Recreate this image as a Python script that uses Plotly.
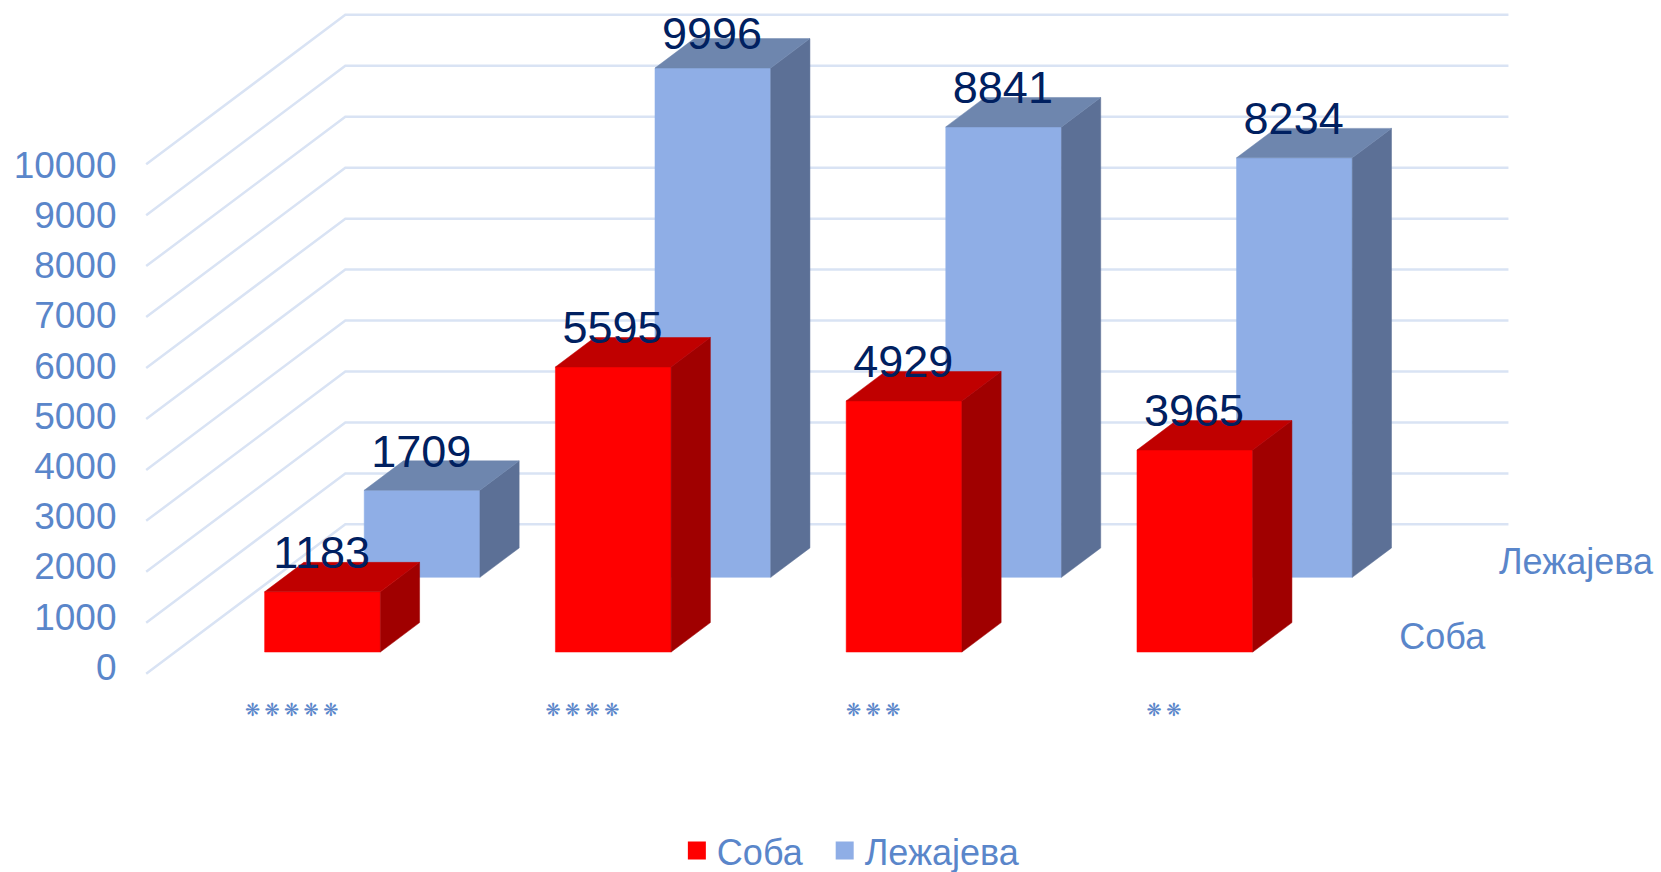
import plotly.graph_objects as go

STAR = "❋"
categories = ["\u2005".join(STAR * n) for n in (5, 4, 3, 2)]
soba = [1183, 5595, 4929, 3965]
lezajeva = [1709, 9996, 8841, 8234]
series_names = ["Соба", "Лежајева"]
value_ticks = [0, 1000, 2000, 3000, 4000, 5000, 6000, 7000, 8000, 9000, 10000]

W, H = 1661, 872
REF_W = 1568
REF_H = REF_W * H / W
PX_PER_CAT = 274.5
PX_PER_VAL = 0.0481
X0, Y0 = 138, 636
DX = 188 / PX_PER_CAT       # oblique shift of a full floor depth, in category units
DY = 141 / PX_PER_VAL       # same, in value units
BAR_W = 0.398
BAR_DEPTH = 0.197
BAR_SHIFT = 0.7 / PX_PER_CAT
BAR_DROP = 0.9 / PX_PER_VAL
LABEL_PX = 32
LABEL_TOP_PX = 36           # labels are kept inside the chart area

C_GRID = "#D9E3F4"
C_TEXT = "#5A86CA"
C_LABEL = "#002060"
FONT = "Liberation Sans, Arial, sans-serif"


def proj(c, d, v):
    return c + d * DX, v + d * DY


def poly(points):
    xs, ys = zip(*[proj(*p) for p in points])
    return list(xs) + [xs[0], None], [y - BAR_DROP for y in ys] + [ys[0] - BAR_DROP, None]


def face(polys, color):
    xs, ys = [], []
    for p in polys:
        a, b = poly(p)
        xs += a
        ys += b
    return go.Scatter(x=xs, y=ys, mode="lines", fill="toself", fillcolor=color,
                      line=dict(color=color, width=0.5), showlegend=False, hoverinfo="skip")


fig = go.Figure()

# wall / side gridlines
gx, gy = [], []
for v in value_ticks:
    for p in [(0, 0, v), (0, 1, v), (4, 1, v), None]:
        x, y = proj(*p) if p else (None, None)
        gx.append(x)
        gy.append(y)
fig.add_trace(go.Scatter(x=gx, y=gy, mode="lines", line=dict(color=C_GRID, width=2.5),
                         showlegend=False, hoverinfo="skip"))


def bars(values, depth_c, front, side, top):
    d0, d1 = depth_c - BAR_DEPTH / 2, depth_c + BAR_DEPTH / 2
    fr, si, to = [], [], []
    for i, v in enumerate(values):
        c0, c1 = i + 0.5 - BAR_W / 2 + BAR_SHIFT, i + 0.5 + BAR_W / 2 + BAR_SHIFT
        fr.append([(c0, d0, 0), (c1, d0, 0), (c1, d0, v), (c0, d0, v)])
        si.append([(c1, d0, 0), (c1, d1, 0), (c1, d1, v), (c1, d0, v)])
        to.append([(c0, d0, v), (c1, d0, v), (c1, d1, v), (c0, d1, v)])
    fig.add_trace(face(fr, front))
    fig.add_trace(face(si, side))
    fig.add_trace(face(to, top))


bars(lezajeva, 0.75, "#8FAEE6", "#5C7096", "#6E86AE")
bars(soba, 0.25, "#FF0000", "#A00000", "#C00000")

# data labels
y_limit = (Y0 - LABEL_TOP_PX) / PX_PER_VAL
for values, dc in ((lezajeva, 0.75), (soba, 0.25)):
    xs, ys = [], []
    for i, v in enumerate(values):
        x, y = proj(i + 0.5, dc - BAR_DEPTH / 2, v)
        xs.append(x)
        ys.append(min(y + LABEL_PX / PX_PER_VAL, y_limit))
    fig.add_trace(go.Scatter(x=xs, y=ys, mode="text", text=[str(v) for v in values],
                             textposition="middle center",
                             textfont=dict(family=FONT, size=45, color=C_LABEL),
                             showlegend=False, hoverinfo="skip"))

# series (depth) axis labels
sx, sy = [], []
for dc in (0.25, 0.75):
    x, y = proj(4 + 38 / PX_PER_CAT, dc, -3.5 / PX_PER_VAL)
    sx.append(x)
    sy.append(y)
fig.add_trace(go.Scatter(x=sx, y=sy, mode="text", text=series_names, textposition="middle right",
                         textfont=dict(family=FONT, size=36, color=C_TEXT),
                         showlegend=False, hoverinfo="skip"))

# invisible trace to activate the value-label axis
fig.add_trace(go.Scatter(x=[0], y=[0], yaxis="y2", mode="lines", opacity=0,
                         showlegend=False, hoverinfo="skip"))

# legend keys
for name, col, leg in zip(series_names, ("#FF0000", "#8FAEE6"), ("legend", "legend2")):
    fig.add_trace(go.Scatter(x=[None], y=[None], mode="markers", name=name, legend=leg,
                             marker=dict(symbol="square", size=16, color=col,
                                         line=dict(color=col, width=2))))

legend_style = dict(orientation="h", xanchor="left", yanchor="middle", y=0.0245,
                    font=dict(family=FONT, size=36, color=C_TEXT), bgcolor="rgba(0,0,0,0)",
                    itemclick=False, itemdoubleclick=False)

fig.update_layout(
    width=W, height=H, margin=dict(l=0, r=0, t=0, b=0, autoexpand=False),
    paper_bgcolor="white", plot_bgcolor="white",
    xaxis=dict(range=[-X0 / PX_PER_CAT, (REF_W - X0) / PX_PER_CAT], domain=[0, 1],
               anchor="free", position=(REF_H - 658) / REF_H,
               tickmode="array", tickvals=[0.5, 1.5, 2.5, 3.5], ticktext=categories,
               tickfont=dict(family="DejaVu Sans", size=18, color=C_TEXT),
               showgrid=False, zeroline=False, showline=False, ticks="", tickangle=0),
    yaxis=dict(range=[(Y0 - REF_H) / PX_PER_VAL, Y0 / PX_PER_VAL], domain=[0, 1],
               visible=False, showgrid=False, zeroline=False),
    yaxis2=dict(range=[(629.5 - REF_H) / 0.0474, 629.5 / 0.0474], domain=[0, 1],
                overlaying="y", anchor="free", position=110 / REF_W, side="left",
                tickmode="array", tickvals=value_ticks, ticktext=[str(v) for v in value_ticks],
                tickfont=dict(family=FONT, size=37, color=C_TEXT),
                showgrid=False, zeroline=False, showline=False, ticks=""),
    legend=dict(x=0.4075, **legend_style),
    legend2=dict(x=0.4965, **legend_style),
    showlegend=True,
)

fig.write_html("out.html", config=dict(displayModeBar=False),
               post_script="document.body.style.margin='0';document.body.style.overflow='hidden';")
